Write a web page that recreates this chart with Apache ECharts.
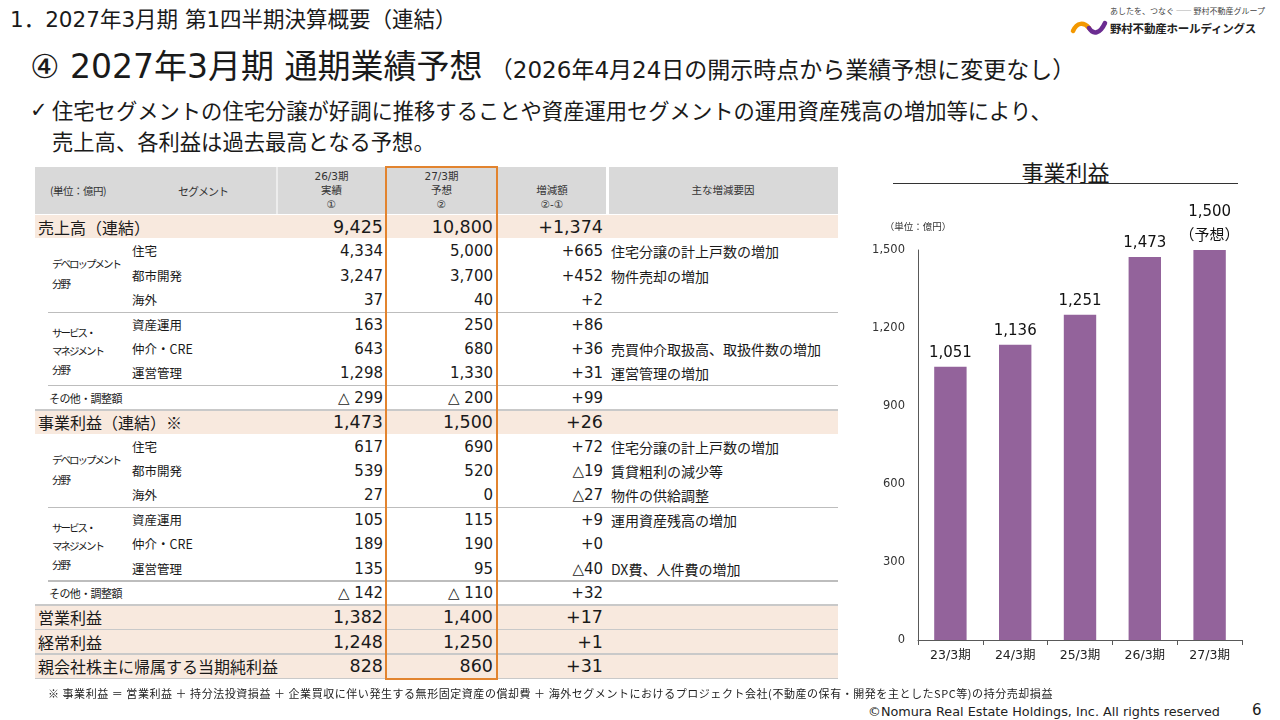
<!DOCTYPE html>
<html lang="ja">
<head>
<meta charset="utf-8">
<title>2027年3月期 通期業績予想</title>
<script src="https://cdn.jsdelivr.net/npm/echarts@6/dist/echarts.min.js"></script>
<style>
  html, body { margin: 0; padding: 0; background: #fff; }
  body { font-family: "DejaVu Sans", "Noto Sans CJK JP", sans-serif; color: #1a1a1a; }
  #slide { position: relative; width: 1280px; height: 720px; overflow: hidden; }
  .abs { position: absolute; white-space: nowrap; }
  .jp { font-family: "Noto Sans CJK JP", sans-serif; }
  .hd { font-size: 10.5px; line-height: 14px; text-align: center; color: #333; }
  .cell { position: absolute; white-space: nowrap; height: 24px; line-height: 24px; }
  .num { text-align: right; }
  #chart { position: absolute; left: 860px; top: 190px; width: 410px; height: 500px; }
</style>
</head>
<body>
<div id="slide">
  <!-- page header -->
  <div class="abs" style="left:10px; top:6px; font-size:21.5px; line-height:28px;">1．2027年3月期 第1四半期決算概要（連結）</div>
  <div class="abs" style="left:30px; top:45px; line-height:44px;">
    <span style="font-size:33px;">④ 2027年3月期 通期業績予想</span><span style="font-size:23px;"> （2026年4月24日の開示時点から業績予想に変更なし）</span>
  </div>
  <div class="abs" style="left:30px; top:96px; font-size:21px; line-height:28px;">✓</div>
  <div class="abs jp" style="left:52px; top:96px; font-size:21.3px; line-height:28px;">住宅セグメントの住宅分譲が好調に推移することや資産運用セグメントの運用資産残高の増加等により、</div>
  <div class="abs jp" style="left:52px; top:127px; font-size:21.3px; line-height:28px;">売上高、各利益は過去最高となる予想。</div>

  <!-- logo -->
  <svg class="abs" style="left:1068px; top:14px;" width="44" height="26" viewBox="0 0 44 26">
    <path d="M5,17 C9,8 16,8 21,14" fill="none" stroke="#F39800" stroke-width="4.5" stroke-linecap="round"/>
    <path d="M21,14 C25,21 32,20 37,9" fill="none" stroke="#6B2C91" stroke-width="4.5" stroke-linecap="round"/>
  </svg>
  <div class="abs jp" style="left:1110px; top:5px; font-size:8px; line-height:12px; color:#444;">あしたを、つなぐ ―― 野村不動産グループ</div>
  <div class="abs jp" style="left:1110px; top:19px; font-size:11.5px; line-height:18px; font-weight:bold; color:#222; letter-spacing:-0.2px;">野村不動産ホールディングス</div>

  <!-- table -->
  <div id="table"></div>

  <!-- chart heading -->
  <div class="abs jp" style="left:893px; width:345px; top:157px; font-size:22px; line-height:28px; text-align:center;">事業利益</div>
  <div class="abs" style="left:893px; width:345px; top:183px; height:0; border-top:1.5px solid #333;"></div>
  <div id="chart"></div>

  <!-- footer -->
  <div class="abs jp" style="left:48px; top:685px; font-size:11px; line-height:16px; color:#222; letter-spacing:0.55px;">※ 事業利益 ＝ 営業利益 ＋ 持分法投資損益 ＋ 企業買収に伴い発生する無形固定資産の償却費 ＋ 海外セグメントにおけるプロジェクト会社(不動産の保有・開発を主としたSPC等)の持分売却損益</div>
  <div class="abs" style="right:60px; top:704px; font-size:12.8px; line-height:16px; color:#222;">©Nomura Real Estate Holdings, Inc. All rights reserved</div>
  <div class="abs" style="left:1252px; top:700px; font-size:15px; line-height:20px;">6</div>
</div>

<script>
// --- table data (億円) ---
const rowNames = [
  '売上高（連結）', '住宅', '都市開発', '海外', '資産運用', '仲介・CRE', '運営管理', 'その他・調整額',
  '事業利益（連結）※', '住宅', '都市開発', '海外', '資産運用', '仲介・CRE', '運営管理', 'その他・調整額',
  '営業利益', '経常利益', '親会社株主に帰属する当期純利益'
];
const actual26 = [9425, 4334, 3247, 37, 163, 643, 1298, -299, 1473, 617, 539, 27, 105, 189, 135, -142, 1382, 1248, 828];
const forecast27 = [10800, 5000, 3700, 40, 250, 680, 1330, -200, 1500, 690, 520, 0, 115, 190, 95, -110, 1400, 1250, 860];
const diffs = [1374, 665, 452, 2, 86, 36, 31, 99, 26, 72, -19, -27, 9, 0, -40, 32, 17, 1, 31];
const reasons = [
  '', '住宅分譲の計上戸数の増加', '物件売却の増加', '', '', '売買仲介取扱高、取扱件数の増加', '運営管理の増加', '',
  '', '住宅分譲の計上戸数の増加', '賃貸粗利の減少等', '物件の供給調整', '運用資産残高の増加', '', 'DX費、人件費の増加', '',
  '', '', ''
];
const mainRows = [0, 8, 16, 17, 18];
const otherRows = [7, 15];
const devRows = [1, 9];
const svcRows = [4, 12];

// --- chart data (事業利益, 億円) ---
const periods = ['23/3期', '24/3期', '25/3期', '26/3期', '27/3期'];
const businessProfit = [1051, 1136, 1251, 1473, 1500];
const isForecast = [false, false, false, false, true];
const yTicks = { min: 0, max: 1500, interval: 300 };

const FONT = '"DejaVu Sans", "Noto Sans CJK JP", sans-serif';
const fmt = v => v.toLocaleString('en-US');
const fmtValue = v => (v < 0 ? '△ ' + fmt(-v) : fmt(v));
const fmtDiff = v => (v < 0 ? '△' + fmt(-v) : '+' + fmt(v));

const table = document.getElementById('table');
function add(html, style, cls) {
  const d = document.createElement('div');
  d.className = cls || 'abs';
  d.style.cssText = style;
  d.innerHTML = html;
  table.appendChild(d);
  return d;
}

const LEFT = 35, RIGHT = 838, ROW_TOP = 215, ROW_H = 24.4;

// header
add('', `left:${LEFT}px; top:167px; width:${RIGHT - LEFT}px; height:47px; background:#D9D9D9;`);
add('', 'left:276px; top:167px; width:2px; height:47px; background:#EDEDED;');
add('', 'left:606px; top:167px; width:3px; height:47px; background:#fff;');
add('(単位：億円)', 'left:50px; top:183px; font-size:10.5px; line-height:16px; color:#333; letter-spacing:-0.5px;', 'abs jp');
add('セグメント', 'left:178px; top:183px; font-size:11px; line-height:16px; color:#333; letter-spacing:-1px;', 'abs jp');
add('26/3期<br>実績<br>①', 'left:277px; width:109px; top:169px;', 'abs hd');
add('27/3期<br>予想<br>②', 'left:386px; width:111px; top:169px;', 'abs hd');
add('増減額<br>②-①', 'left:497px; width:110px; top:183px;', 'abs hd');
add('主な増減要因', 'left:608px; width:230px; top:183px;', 'abs hd jp');

rowNames.forEach((name, i) => {
  const top = ROW_TOP + i * ROW_H;
  const isMain = mainRows.includes(i);
  const isOther = otherRows.includes(i);
  if (isMain) {
    add('', `left:${LEFT}px; top:${top}px; width:${RIGHT - LEFT}px; height:${ROW_H - 1}px; background:#F8E9DE;`);
  }
  // row separators
  if (svcRows.includes(i) || isOther) {
    add('', `left:48px; top:${top - 1}px; width:${RIGHT - 48}px; height:1.5px; background:#BDBDBD;`);
  }
  if (isMain && i > 0) {
    add('', `left:${LEFT}px; top:${top - 1}px; width:${RIGHT - LEFT}px; height:1.5px; background:#C9C9C9;`);
  }
  const numSize = isMain ? 17.5 : 15;
  if (isMain) {
    add(name, `left:38px; top:${top}px; font-size:16px;`, 'cell jp');
  } else if (isOther) {
    add(name, `left:49px; top:${top}px; font-size:11px; letter-spacing:-0.6px;`, 'cell jp');
  } else {
    add(name, `left:132px; top:${top}px; font-size:12.5px;`, 'cell jp');
  }
  add(fmtValue(actual26[i]), `left:277px; width:106px; top:${top}px; font-size:${numSize}px;`, 'cell num');
  add(fmtValue(forecast27[i]), `left:386px; width:107px; top:${top}px; font-size:${numSize}px;`, 'cell num');
  add(fmtDiff(diffs[i]), `left:497px; width:106px; top:${top}px; font-size:${numSize}px;`, 'cell num');
  if (reasons[i]) {
    add(reasons[i], `left:611px; top:${top}px; font-size:14px;`, 'cell jp');
  }
});

// group captions
devRows.forEach(r => {
  const top = ROW_TOP + r * ROW_H;
  add('デベロップメント<br>分野', `left:52px; top:${top + 15}px; font-size:10.5px; line-height:20px; letter-spacing:-2px;`, 'abs jp');
});
svcRows.forEach(r => {
  const top = ROW_TOP + r * ROW_H;
  add('サービス・<br>マネジメント<br>分野', `left:52px; top:${top + 11}px; font-size:10.5px; line-height:18.5px; letter-spacing:-2px;`, 'abs jp');
});

// bottom rule and forecast frame
add('', `left:${LEFT}px; top:${ROW_TOP + rowNames.length * ROW_H - 1}px; width:${RIGHT - LEFT}px; height:1.5px; background:#C9C9C9;`);
add('', `left:385px; top:166px; width:113px; height:${ROW_TOP + rowNames.length * ROW_H - 166 + 1}px; border:2px solid #E2842F; box-sizing:border-box;`);

// --- chart ---
const chart = echarts.init(document.getElementById('chart'));
chart.setOption({
  animation: false,
  grid: { left: 58, right: 28, top: 60, bottom: 50 },
  xAxis: {
    type: 'category',
    data: periods,
    axisLine: { lineStyle: { color: '#595959', width: 1 } },
    axisTick: { show: true, length: 5, lineStyle: { color: '#595959' } },
    axisLabel: { color: '#222', fontSize: 12.5, fontFamily: FONT, margin: 9 }
  },
  yAxis: {
    type: 'value',
    min: yTicks.min,
    max: yTicks.max,
    interval: yTicks.interval,
    name: '（単位：億円）',
    nameLocation: 'end',
    nameGap: 18,
    nameTextStyle: { fontSize: 9.5, color: '#333', align: 'center', fontFamily: FONT },
    axisLine: { show: true, lineStyle: { color: '#595959' } },
    axisTick: { show: false },
    splitLine: { show: false },
    axisLabel: { color: '#333', fontSize: 11.5, fontFamily: FONT, margin: 13, formatter: v => fmt(v) }
  },
  series: [{
    type: 'bar',
    data: businessProfit,
    barWidth: '50%',
    itemStyle: { color: '#93639B' },
    label: {
      show: true,
      position: 'top',
      distance: 2,
      color: '#111',
      fontSize: 15,
      lineHeight: 24,
      fontFamily: FONT,
      formatter: p => fmt(p.value) + (isForecast[p.dataIndex] ? '\n（予想）' : '')
    }
  }]
});
</script>
</body>
</html>
